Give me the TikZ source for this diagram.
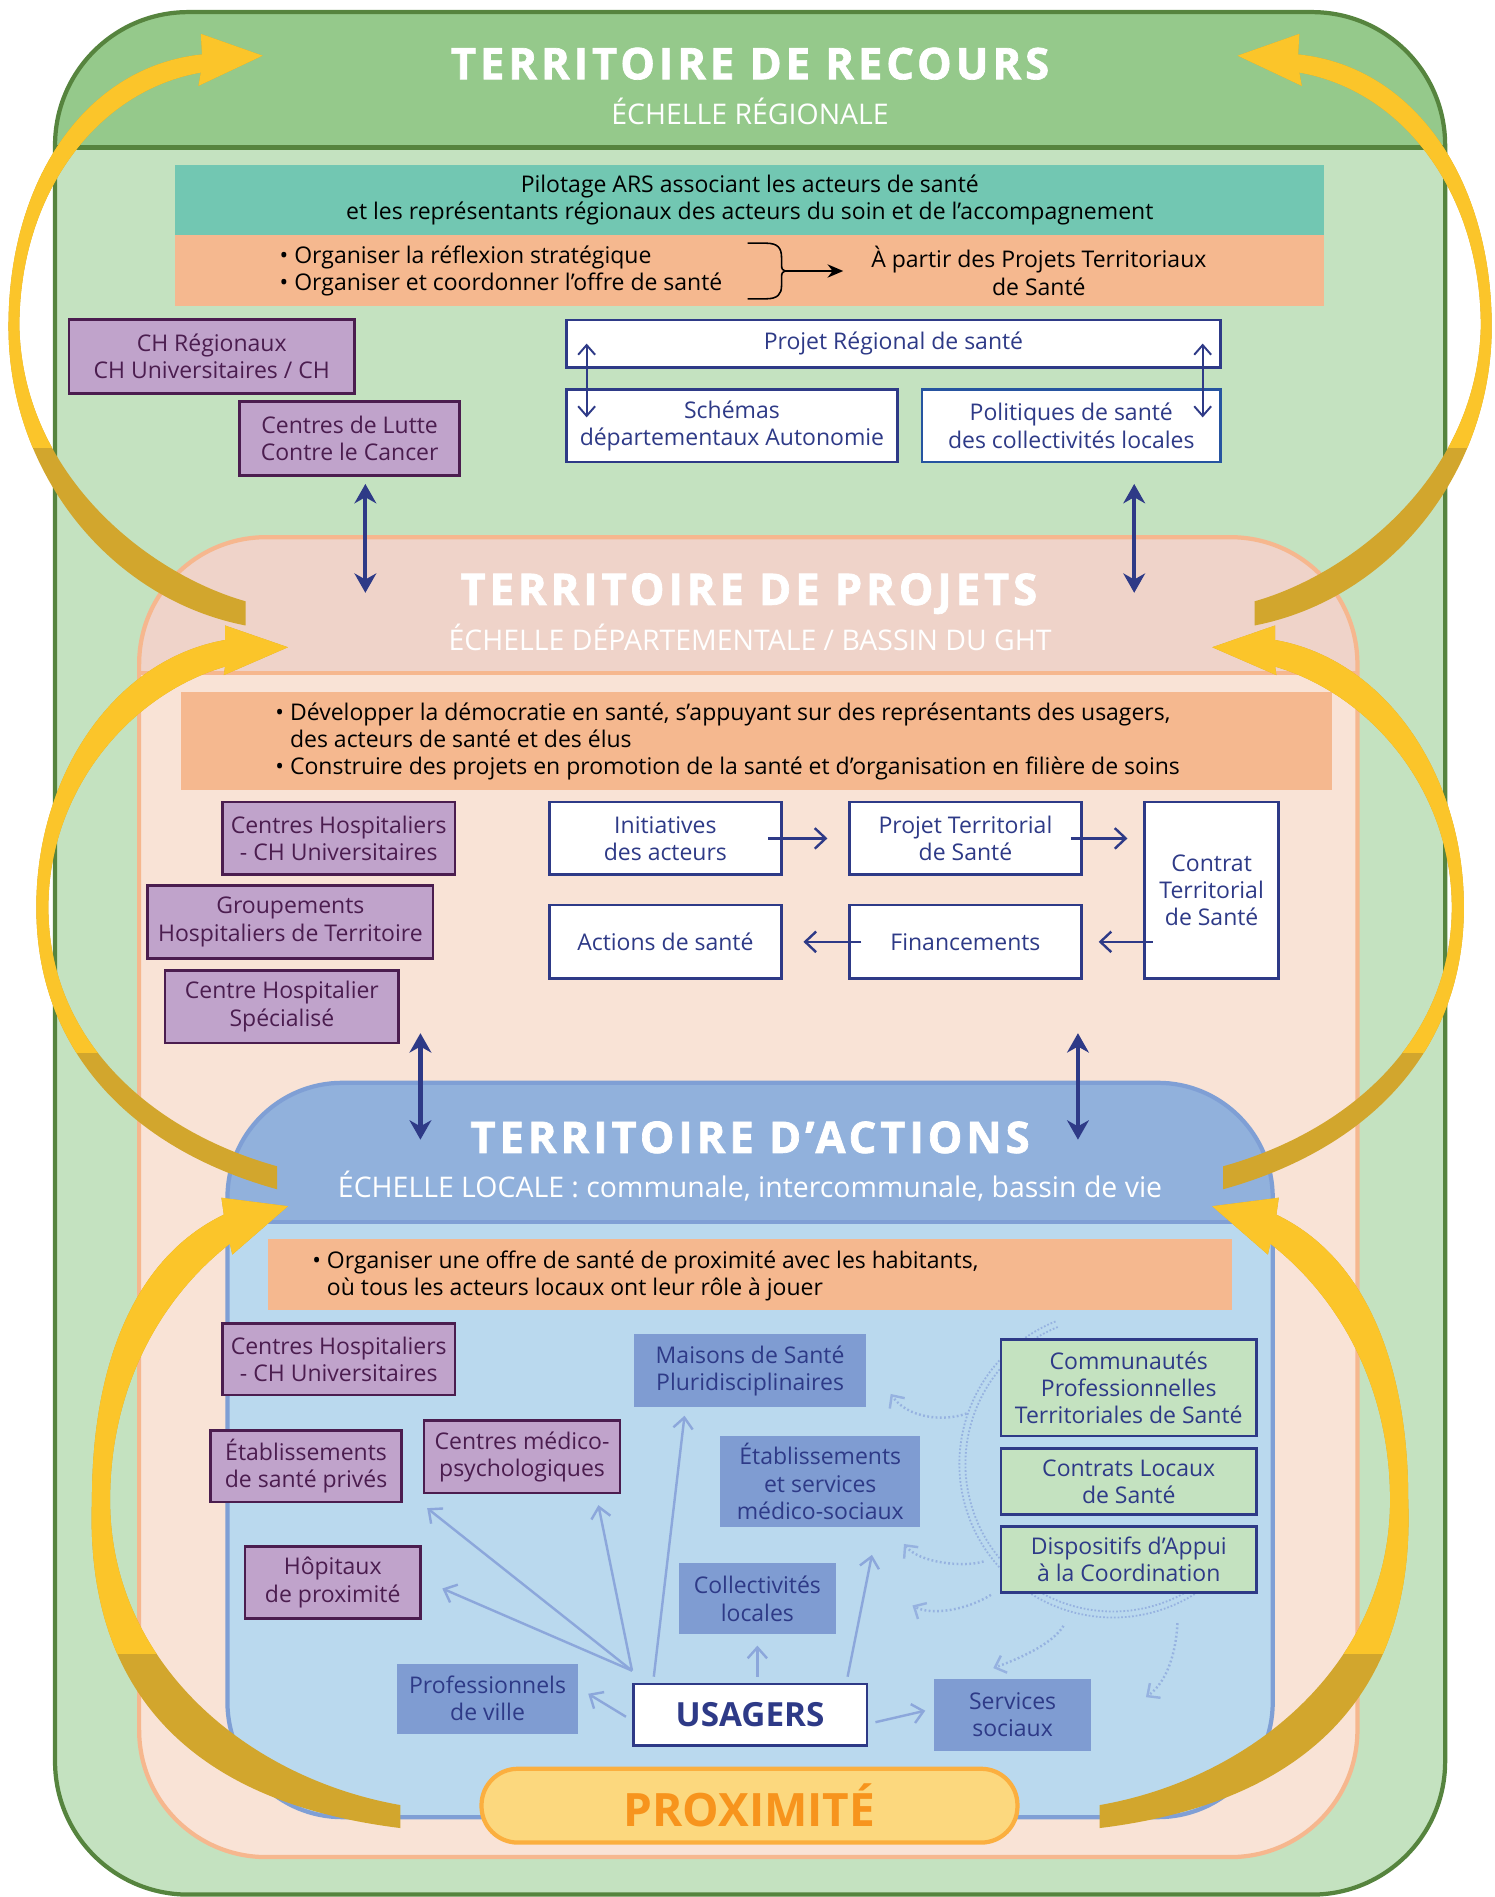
\documentclass[tikz,border=0pt]{standalone}
\usepackage{fontspec}
\setmainfont{Open Sans}
\newfontfamily\titlefont[LetterSpace=9, BoldFeatures={FakeBold=1.6}]{Open Sans}
\usetikzlibrary{arrows.meta, calc}

\definecolor{greenline}{RGB}{86,132,62}
\definecolor{greenhead}{RGB}{149,201,139}
\definecolor{greenbody}{RGB}{196,226,192}
\definecolor{tealband}{RGB}{114,199,178}
\definecolor{bandorange}{RGB}{245,184,143}
\definecolor{salmonline}{RGB}{246,183,142}
\definecolor{projethead}{RGB}{239,211,201}
\definecolor{projetbody}{RGB}{249,227,214}
\definecolor{actionline}{RGB}{127,159,213}
\definecolor{actionhead}{RGB}{145,177,220}
\definecolor{actionbody}{RGB}{186,217,238}
\definecolor{purplefill}{RGB}{192,163,203}
\definecolor{purpleline}{RGB}{75,29,79}
\definecolor{navy}{RGB}{46,58,135}
\definecolor{royal}{RGB}{38,84,160}
\definecolor{midblue}{RGB}{127,156,210}
\definecolor{lightarrow}{RGB}{140,167,219}
\definecolor{dotblue}{RGB}{150,178,224}
\definecolor{sunyellow}{RGB}{251,197,42}
\definecolor{ochre}{RGB}{210,166,45}
\definecolor{proxfill}{RGB}{252,216,126}
\definecolor{proxline}{RGB}{251,175,63}
\definecolor{proxtext}{RGB}{247,148,29}

\newcommand{\boxtext}{\fontsize{19}{22.5}\selectfont}

\tikzstyle{purplebox} = [rectangle, draw=purpleline, fill=purplefill, line width=2.2pt, text=purpleline, font=\boxtext, align=center, inner sep=0pt]
\tikzstyle{whitebox} = [rectangle, draw=navy, fill=white, line width=2.2pt, text=navy, font=\boxtext, align=center, inner sep=0pt]
\tikzstyle{bluebox} = [rectangle, fill=midblue, text=navy, font=\boxtext, align=center, inner sep=0pt]
\tikzstyle{greenbox} = [rectangle, draw=navy, fill=greenbody, line width=2.2pt, text=navy, font=\boxtext, align=center, inner sep=0pt]
\tikzstyle{band} = [rectangle, inner sep=0pt, font=\boxtext, align=center]
\tikzstyle{bandtext} = [text=black, font=\boxtext, align=left, inner sep=0pt, anchor=west]
\tikzstyle{bigtitle} = [text=white, font=\titlefont\fontsize{36}{40}\selectfont\bfseries, anchor=base, inner sep=0pt]
\tikzstyle{subtitle} = [text=white, font=\fontsize{23.5}{26}\selectfont, anchor=base, inner sep=0pt]
\tikzstyle{bigarrow} = [draw=navy, line width=3.5pt, {Stealth[length=16pt,width=18pt,inset=5pt]}-{Stealth[length=16pt,width=18pt,inset=5pt]}]
\tikzstyle{arrow} = [draw=navy, line width=2pt, -{Straight Barb[length=9pt,width=17pt]}]
\tikzstyle{thinarrow} = [draw=navy, line width=1.6pt, {Straight Barb[length=8pt,width=14pt]}-{Straight Barb[length=8pt,width=14pt]}]
\tikzstyle{userarrow} = [draw=lightarrow, line width=2pt, -{Straight Barb[length=9pt,width=16pt]}]
\tikzstyle{dotring} = [draw=dotblue, line width=1.5pt, dash pattern=on 1.4pt off 1.6pt]
\tikzstyle{dotarrow} = [draw=dotblue, line width=2pt, dash pattern=on 1.5pt off 2pt, -{Straight Barb[length=8pt,width=15pt]}]
\tikzstyle{proxbox} = [rectangle, rounded corners=30pt, draw=proxline, fill=proxfill, line width=3.5pt, text=proxtext, font=\fontsize{38}{40}\selectfont\bfseries]

% yellow ribbon: ochre below the split, yellow above
\newcommand{\ribbon}[2]{%
  \fill[ochre] #1;
  \begin{scope}
    \clip (0,0) rectangle (640,#2);
    \fill[sunyellow] #1;
  \end{scope}}

\newcommand{\yellowarcs}{%
  \ribbon{(166,60) -- (164,71) -- (217,46) -- (166,28) -- (167,45)
    .. controls (70,55) and (7,150) .. (7,270)
    .. controls (7,390) and (90,495) .. (203,517) -- (203,497)
    .. controls (125,475) and (19,395) .. (16,270)
    .. controls (16,160) and (80,75) .. (166,60) -- cycle}{370}%
  \ribbon{(186,551) -- (185,558) -- (238,535) -- (186,517) -- (186,529)
    .. controls (95,545) and (30,640) .. (30,750)
    .. controls (30,870) and (110,950) .. (229,983) -- (229,964)
    .. controls (125,935) and (40,860) .. (40,750)
    .. controls (40,655) and (105,575) .. (186,551) -- cycle}{870}%
  \ribbon{(190,1028) -- (192,1037) -- (238,997) -- (183,990) -- (185,1004)
    .. controls (110,1040) and (76,1130) .. (76,1240)
    .. controls (70,1400) and (160,1490) .. (331,1511) -- (331,1492)
    .. controls (205,1470) and (91,1375) .. (91,1240)
    .. controls (91,1150) and (130,1075) .. (190,1028) -- cycle}{1367}}

\begin{document}
\begin{tikzpicture}[x=1pt, y=-1pt]
\useasboundingbox (0,0) rectangle (1235,1568);

    % Territoire de recours
    \fill[greenbody, rounded corners=110pt] (45.5,10) rectangle (1194.5,1566);
    \begin{scope}
        \clip[rounded corners=110pt] (45.5,10) rectangle (1194.5,1566);
        \fill[greenhead] (45.5,10) rectangle (1194.5,122);
    \end{scope}
    \draw[greenline, line width=3.5pt] (45.5,122) -- (1194.5,122);
    \draw[greenline, line width=3.5pt, rounded corners=110pt] (45.5,10) rectangle (1194.5,1566);
    \node (recours) [bigtitle] at (620,65.5) {TERRITOIRE DE RECOURS};
    \node (recours-sub) [subtitle] at (620,103) {ÉCHELLE RÉGIONALE};

    \node (pilotage) [band, fill=tealband, minimum width=950pt, minimum height=58pt] at (619.75,165) {Pilotage ARS associant les acteurs de santé\\et les représentants régionaux des acteurs du soin et de l’accompagnement};
    \node (missions) [band, fill=bandorange, minimum width=950pt, minimum height=59pt] at (619.75,223.5) {};
    \node (objectifs) [bandtext] at (231,224) {• Organiser la réflexion stratégique\\• Organiser et coordonner l’offre de santé};
    \draw[line width=1.3pt] (618,201) -- (633,201) .. controls (643,201) and (646,205) .. (646,213) -- (646,219)
        .. controls (646,222) and (647,224) .. (649,224) .. controls (647,224) and (646,226) .. (646,229) -- (646,236)
        .. controls (646,243) and (643,247) .. (633,247) -- (618,247);
    \coordinate (brace-tip) at (649,224);
    \node (apartir) [font=\boxtext, align=center, inner sep=0pt, anchor=west] at (720,224) {À partir des Projets Territoriaux\\de Santé};
    \draw[line width=1.5pt, -{Stealth[length=13pt,width=11pt]}] (brace-tip) -- ([xshift=-23pt]apartir.west);

    \node (chreg) [purplebox, minimum width=236pt, minimum height=61pt] at (175,294.5) {CH Régionaux\\CH Universitaires / CH};
    \node (clcc) [purplebox, minimum width=182pt, minimum height=61pt] at (289,362.5) {Centres de Lutte\\Contre le Cancer};
    \node (prs) [whitebox, minimum width=541pt, minimum height=39pt] at (738.5,284) {Projet Régional de santé};
    \node (schemas) [whitebox, minimum width=274pt, minimum height=60pt] at (605,352) {Schémas\\départementaux Autonomie};
    \node (politiques) [whitebox, draw=royal, minimum width=247pt, minimum height=60pt] at (885.5,352) {Politiques de santé\\des collectivités locales};
    \draw[thinarrow] ([xshift=18pt]prs.west) -- ([xshift=18pt,yshift=7pt]schemas.west);
    \draw[thinarrow] ([xshift=-16pt]prs.east) -- ([xshift=-16pt,yshift=7pt]politiques.east);

    % Territoire de projets
    \fill[projetbody, rounded corners=105pt] (115,444) rectangle (1122,1535);
    \begin{scope}
        \clip[rounded corners=105pt] (115,444) rectangle (1122,1535);
        \fill[projethead] (115,444) rectangle (1122,556);
    \end{scope}
    \draw[salmonline, line width=3.5pt] (115,556) -- (1122,556);
    \draw[salmonline, line width=3.5pt, rounded corners=105pt] (115,444) rectangle (1122,1535);
    \node (projets) [bigtitle] at (619,500) {TERRITOIRE DE PROJETS};
    \node (projets-sub) [subtitle] at (620,537.5) {ÉCHELLE DÉPARTEMENTALE / BASSIN DU GHT};

    \node (democratie) [band, fill=bandorange, minimum width=951pt, minimum height=81pt] at (625.5,612.5) {};
    \node (enjeux) [bandtext] at (227.5,613) {• Développer la démocratie en santé, s’appuyant sur des représentants des usagers,\\\hphantom{• }des acteurs de santé et des élus\\• Construire des projets en promotion de la santé et d’organisation en filière de soins};

    \node (chu-proj) [purplebox, minimum width=192pt, minimum height=60pt] at (280,693) {Centres Hospitaliers\\- CH Universitaires};
    \node (ght) [purplebox, minimum width=236pt, minimum height=60pt] at (240,762) {Groupements\\Hospitaliers de Territoire};
    \node (chs) [purplebox, minimum width=193pt, minimum height=60pt] at (233,832) {Centre Hospitalier\\Spécialisé};

    \node (initiatives) [whitebox, minimum width=192pt, minimum height=60pt] at (550,693) {Initiatives\\des acteurs};
    \node (pts) [whitebox, minimum width=192pt, minimum height=60pt] at (798,693) {Projet Territorial\\de Santé};
    \node (cts) [whitebox, minimum width=111pt, minimum height=146pt] at (1001.5,736) {Contrat\\Territorial\\de Santé};
    \node (actions-sante) [whitebox, minimum width=192pt, minimum height=61pt] at (550,778.5) {Actions de santé};
    \node (financements) [whitebox, minimum width=192pt, minimum height=61pt] at (798,778.5) {Financements};

    \draw[arrow, shorten <=-12pt, shorten >=17pt] (initiatives.east) -- (pts.west);
    \draw[arrow, shorten <=-10pt, shorten >=13pt] (pts.east) -- (cts.west |- pts.east);
    \draw[arrow, shorten <=-8pt, shorten >=13pt] (cts.west |- financements.east) -- (financements.east);
    \draw[arrow, shorten <=-11pt, shorten >=17pt] (financements.west) -- (actions-sante.east);

    % Territoire d'actions
    \fill[actionbody, rounded corners=95pt] (188,895) rectangle (1052,1502);
    \begin{scope}
        \clip[rounded corners=95pt] (188,895) rectangle (1052,1502);
        \fill[actionhead] (188,895) rectangle (1052,1010);
    \end{scope}
    \draw[actionline, line width=3.5pt] (188,1010) -- (1052,1010);
    \draw[actionline, line width=3.5pt, rounded corners=95pt] (188,895) rectangle (1052,1502);
    \node (actions) [bigtitle] at (620,953) {TERRITOIRE D’ACTIONS};
    \node (actions-sub) [subtitle] at (620,989.5) {ÉCHELLE LOCALE : communale, intercommunale, bassin de vie};

    \node (proximite-band) [band, fill=bandorange, minimum width=796.5pt, minimum height=59pt] at (619.75,1053.5) {};
    \node (offre) [bandtext] at (258,1054.5) {• Organiser une offre de santé de proximité avec les habitants,\\\hphantom{• }où tous les acteurs locaux ont leur rôle à jouer};

    \node (chu-act) [purplebox, minimum width=192pt, minimum height=59pt] at (280,1123.5) {Centres Hospitaliers\\- CH Universitaires};
    \node (esp) [purplebox, minimum width=158pt, minimum height=59pt] at (253,1212) {Établissements\\de santé privés};
    \node (cmp) [purplebox, minimum width=162pt, minimum height=60pt] at (431.5,1204) {Centres médico-\\psychologiques};
    \node (hp) [purplebox, minimum width=145pt, minimum height=60pt] at (275,1308) {Hôpitaux\\de proximité};

    \node (msp) [bluebox, minimum width=192pt, minimum height=60pt] at (620,1133) {Maisons de Santé\\Pluridisciplinaires};
    \node (esms) [bluebox, minimum width=165pt, minimum height=75pt] at (678,1224.5) {Établissements\\et services\\médico-sociaux};
    \node (coll) [bluebox, minimum width=130pt, minimum height=59pt] at (626,1321.5) {Collectivités\\locales};
    \node (pro) [bluebox, minimum width=150pt, minimum height=58pt] at (403,1404) {Professionnels\\de ville};
    \node (ss) [bluebox, minimum width=130pt, minimum height=59pt] at (837,1417.5) {Services\\sociaux};
    \node (usagers) [whitebox, font=\fontsize{27.5}{30}\selectfont\bfseries, minimum width=193pt, minimum height=51pt] at (620,1417.5) {USAGERS};

    % dotted ring behind the coordination boxes
    \coordinate (ring) at (920,1210);
    \draw[dotring] ([shift={(248:122)}]ring) arc[start angle=248, end angle=50, radius=122];
    \draw[dotring] ([shift={(248:127)}]ring) arc[start angle=248, end angle=50, radius=127];

    \node (cpts) [greenbox, minimum width=211pt, minimum height=80pt] at (933,1147) {Communautés\\Professionnelles\\Territoriales de Santé};
    \node (cls) [greenbox, minimum width=211pt, minimum height=55pt] at (933,1224.5) {Contrats Locaux\\de Santé};
    \node (dac) [greenbox, minimum width=211pt, minimum height=55pt] at (933,1289) {Dispositifs d’Appui\\à la Coordination};

    \draw[dotarrow] ([shift={(199:128)}]ring) .. controls +(-19,7) and +(14,20) .. ([xshift=20pt,yshift=11pt]msp.south east);
    \draw[dotarrow] ([shift={(143:134)}]ring) .. controls +(-16,5) and +(13,16) .. ([xshift=-13.5pt,yshift=-14pt]esms.south east);
    \draw[dotarrow] ([shift={(133:148)}]ring) .. controls +(-19,12) and +(16,9) .. ([xshift=63pt,yshift=-5.5pt]coll.east);
    \draw[dotarrow] ([shift={(107:140)}]ring) .. controls +(-10,16) and +(19,-7) .. ([xshift=-16pt,yshift=9pt]ss.north);
    \draw[dotarrow] ([shift={(68:142)}]ring) .. controls +(-1,23) and +(18,-13) .. ([xshift=45pt,yshift=-15pt]ss.north east);

    % Arrows from users
    \coordinate (hub) at ([yshift=10pt]usagers.north west);
    \draw[userarrow] (hub) -- ([xshift=20pt,yshift=-4pt]esp.south east);
    \draw[userarrow] (hub) -- ([xshift=17pt,yshift=-5pt]hp.east);
    \draw[userarrow] (hub) -- ([xshift=-19pt,yshift=-9pt]cmp.south east);
    \draw[userarrow] ([xshift=18pt,yshift=5pt]usagers.north west) -- ([xshift=42pt,yshift=-7pt]msp.south west);
    \draw[userarrow, shorten <=5pt, shorten >=9pt] (usagers.north -| coll.south) -- (coll.south);
    \draw[userarrow] ([xshift=-17pt,yshift=5pt]usagers.north east) -- ([xshift=-40pt,yshift=-23pt]esms.south east);
    \draw[userarrow] ([xshift=6pt,yshift=-6pt]usagers.east) -- ([xshift=-7pt,yshift=3.5pt]ss.west);
    \draw[userarrow] ([xshift=-5pt,yshift=-1.5pt]usagers.west) -- ([xshift=8pt,yshift=4pt]pro.east);

    \node (proxi) [proxbox, minimum width=443pt, minimum height=61pt] at (619.5,1492.5) {PROXIMITÉ};

    % Links between levels
    \coordinate (recours-left) at (302,400);
    \coordinate (projets-left) at (302,490);
    \coordinate (recours-right) at (937.5,400);
    \coordinate (projets-right) at (937.5,490);
    \coordinate (projets-low-left) at (347.5,854);
    \coordinate (actions-left) at (347.5,942);
    \coordinate (projets-low-right) at (891,854);
    \coordinate (actions-right) at (891,942);
    \draw[bigarrow] (recours-left) -- (projets-left);
    \draw[bigarrow] (recours-right) -- (projets-right);
    \draw[bigarrow] (projets-low-left) -- (actions-left);
    \draw[bigarrow] (projets-low-right) -- (actions-right);

    % Yellow arcs, left and mirrored
    \yellowarcs
    \begin{scope}[xshift=1240pt, xscale=-1]
        \yellowarcs
    \end{scope}

\end{tikzpicture}
\end{document}
